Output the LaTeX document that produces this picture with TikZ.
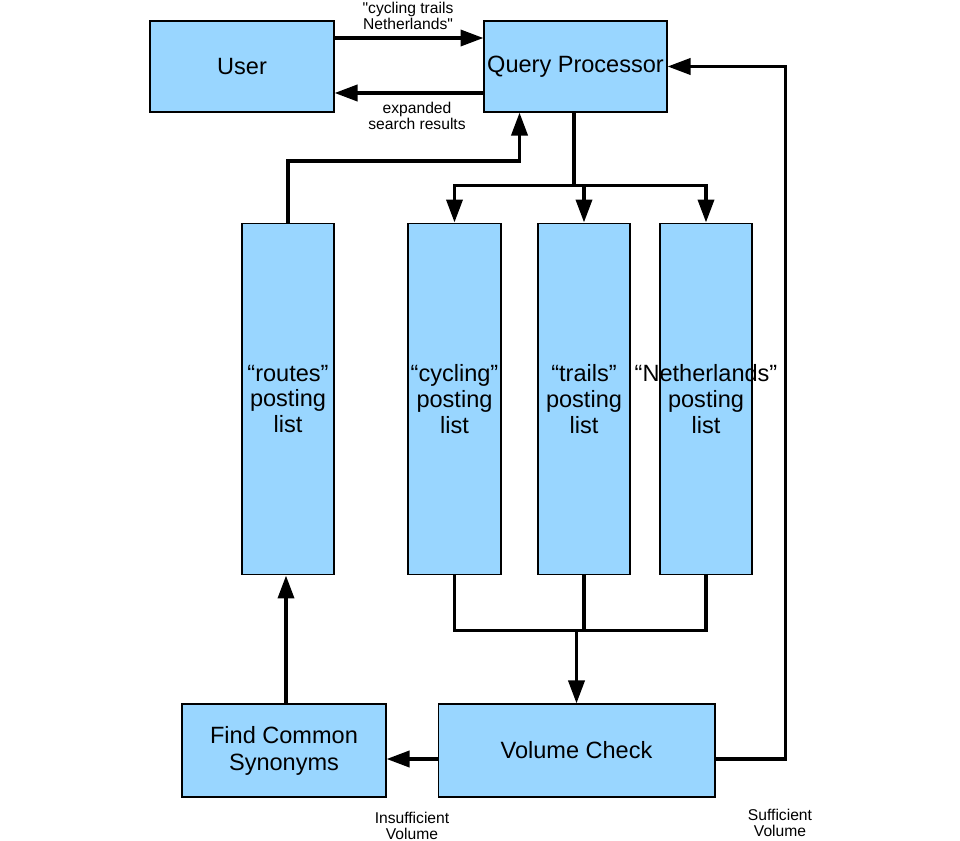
\documentclass[tikz,border=0pt]{standalone}
\usepackage{fontspec}
\setmainfont{Liberation Sans}
\newfontfamily\lblfont{Liberation Sans}
\usetikzlibrary{arrows.meta, positioning, calc}
\tikzstyle{blk} = [draw=black, fill=blue!40!cyan!40, line width=0.6pt,
    rectangle, align=center, font=\fontsize{13.4}{14.6}\selectfont, inner sep=0pt]
\tikzstyle{plist} = [blk, minimum width=1.84cm, minimum height=7.04cm]
\tikzstyle{lbl} = [align=center, font=\lblfont\fontsize{8.9}{9.4}\selectfont, inner sep=0pt]
\tikzstyle{wire} = [line width=2.1pt, black]
\tikzstyle{arr} = [wire, -{Triangle[length=0.46cm, width=0.32cm]}]

\begin{document}
\begin{tikzpicture}[x=0.02cm, y=-0.02cm]
    \fill[white] (0,0) rectangle (960,841);
    \useasboundingbox (0,0) rectangle (960,841);
    % top row
    \node [blk, minimum width=3.68cm, minimum height=1.82cm] (user) at (242,66.5) {User};
    \node [blk, minimum width=3.66cm, minimum height=1.82cm] (qp) at (575.5,66.5) {Query Processor};
    % posting lists
    \node [plist] (rts) at (288,399) {“routes”\\posting\\list};
    \node [plist, minimum width=1.86cm] (cyc) at (454.5,399) {“cycling”\\posting\\list};
    \node [plist] (trl) at (584,399) {“trails”\\posting\\list};
    \node [plist] (net) at (706,399) {\makebox[0pt]{“Netherlands”}\\posting\\list};
    % bottom row
    \node [blk, minimum width=4.08cm, minimum height=1.86cm,
      font=\fontsize{13.4}{15.4}\selectfont] (fcs) at (284,750.5) {Find Common\\Synonyms};
    \node [blk, minimum width=5.54cm, minimum height=1.86cm] (vc) at (576.5,750.5) {Volume Check};
    % labels
    \node [lbl] (qlbl) at (408,16) {"cycling trails\\Netherlands"};
    \node [lbl] (rlbl) at (417,116) {expanded\\search results};
    \node [lbl] (ilbl) at (412,826) {Insufficient\\Volume};
    \node [lbl] (slbl) at (780,823) {Sufficient\\Volume};
    % user <-> query processor
    \draw [arr] ([yshift=0.57cm]user.east) -- ([yshift=0.57cm]qp.west);
    \draw [arr] ([yshift=-0.53cm]qp.west) -- ([yshift=-0.53cm]user.east);
    % split to the posting lists
    \coordinate (split) at ([xshift=-0.03cm,yshift=-1.46cm]qp.south);
    \draw [wire] ([xshift=-0.03cm]qp.south) -- (split);
    \draw [arr] (split) -| (cyc.north);
    \draw [arr] (split) -| (net.north);
    \draw [arr] (split -| trl.north) -- (trl.north);
    % routes back to query processor
    \draw [arr] (rts.north) |- ([xshift=-1.12cm,yshift=-0.97cm]qp.south)
      -- ([xshift=-1.12cm]qp.south);
    % join to volume check
    \coordinate (join) at ([yshift=-1.1cm]vc.north |- cyc.south);
    \draw [wire] (cyc.south) |- (join -| net.south) -- (net.south);
    \draw [wire] (trl.south) -- (trl.south |- join);
    \draw [arr] (join) -- (vc.north);
    % volume check outcomes
    \draw [arr] ([yshift=-0.17cm]vc.west) -- ([yshift=-0.17cm]vc.west -| fcs.east);
    \draw [arr] ([yshift=-0.17cm]vc.east) -- ++(1.4cm,0) |- (qp.east);
    \draw [arr] ([xshift=0.04cm]fcs.north) -- ([xshift=0.04cm]fcs.north |- rts.south);
\end{tikzpicture}
\end{document}
